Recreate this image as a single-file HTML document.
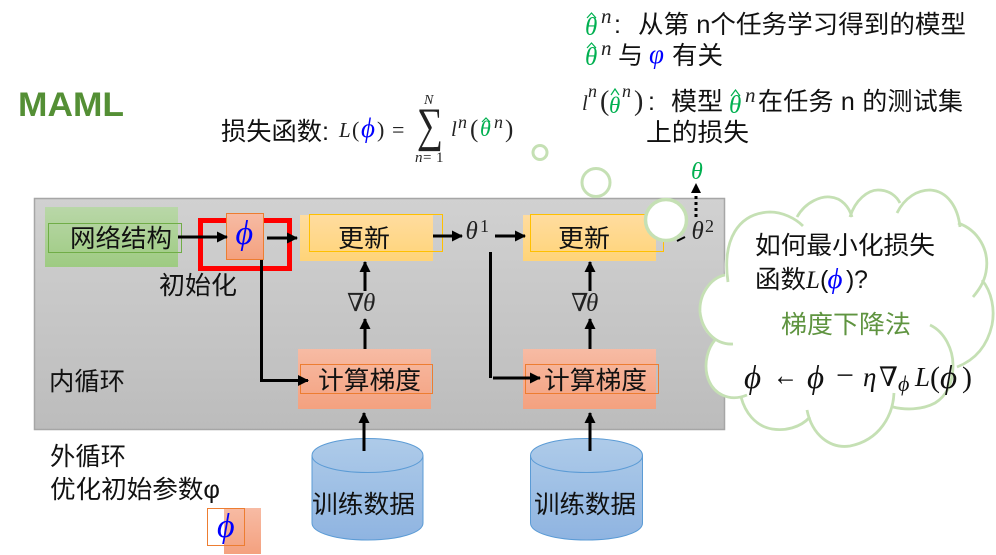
<!DOCTYPE html>
<html><head><meta charset="utf-8"><style>
html,body{margin:0;padding:0;background:#fff;width:996px;height:555px;overflow:hidden}
svg{display:block}
.c{font-family:"Liberation Sans","Noto Sans CJK SC",sans-serif;font-size:25px;fill:#111}
.m{font-family:"Liberation Serif","DejaVu Serif",serif;font-style:italic;fill:#222}
.u{font-family:"Liberation Serif","DejaVu Serif",serif;fill:#222}
.a{stroke:#000;stroke-width:3;fill:none}
.h{fill:none;stroke:#00b050;stroke-width:1.2}
.gt{fill:#00b050}
.bl{fill:#0000ff}
.k{fill:#111}
</style></head><body>
<svg width="996" height="555" viewBox="0 0 996 555" xmlns="http://www.w3.org/2000/svg">
<defs>
<linearGradient id="g" x1="0" y1="0" x2="0" y2="1"><stop offset="0" stop-color="#d1d1d1"/><stop offset="1" stop-color="#bcbcbc"/></linearGradient>
<linearGradient id="gn" x1="0" y1="0" x2="0" y2="1"><stop offset="0" stop-color="#b9d7a8"/><stop offset="1" stop-color="#9ecb82"/></linearGradient>
<linearGradient id="y" x1="0" y1="0" x2="0" y2="1"><stop offset="0" stop-color="#ffdc9f"/><stop offset="1" stop-color="#ffd478"/></linearGradient>
<linearGradient id="o" x1="0" y1="0" x2="0" y2="1"><stop offset="0" stop-color="#f7bba4"/><stop offset="1" stop-color="#f4a17f"/></linearGradient>
<linearGradient id="b" x1="0" y1="0" x2="0" y2="1"><stop offset="0" stop-color="#aecbe9"/><stop offset="1" stop-color="#8fb4e1"/></linearGradient>
<marker id="ah" markerUnits="userSpaceOnUse" markerWidth="11" markerHeight="12" refX="10" refY="5.500" orient="auto"><path d="M0 0L11 5.500L0 11Z" fill="#000"/></marker>
</defs>

<rect x="34.5" y="198.5" width="690" height="231" fill="url(#g)" stroke="#a6a6a6" stroke-width="1.5"/>

<!-- 网络结构 -->
<rect x="45" y="207" width="133" height="60" fill="url(#gn)"/>
<rect x="48.5" y="223.5" width="133" height="29" fill="none" stroke="#70ad47" stroke-width="1"/>
<text class="c" x="70" y="247" textLength="102" lengthAdjust="spacingAndGlyphs">网络结构</text>

<!-- update boxes -->
<rect x="300" y="215" width="133" height="46" fill="url(#y)"/>
<rect x="309.5" y="214.5" width="133" height="37" fill="none" stroke="#ffc000" stroke-width="1"/>
<text class="c" x="338" y="247" textLength="52" lengthAdjust="spacingAndGlyphs">更新</text>
<rect x="523" y="215" width="133" height="46" fill="url(#y)"/>
<rect x="530.5" y="214.5" width="133" height="37" fill="none" stroke="#ffc000" stroke-width="1"/>
<text class="c" x="558" y="247" textLength="52" lengthAdjust="spacingAndGlyphs">更新</text>

<!-- gradient boxes -->
<rect x="298" y="349" width="133" height="60" fill="url(#o)"/>
<rect x="300.5" y="364.5" width="132" height="29" fill="none" stroke="#ed7d31" stroke-width="1"/>
<text class="c" x="318" y="389" textLength="103" lengthAdjust="spacingAndGlyphs">计算梯度</text>
<rect x="523" y="349" width="133" height="60" fill="url(#o)"/>
<rect x="525.5" y="364.5" width="133" height="29" fill="none" stroke="#ed7d31" stroke-width="1"/>
<text class="c" x="544" y="389" textLength="103" lengthAdjust="spacingAndGlyphs">计算梯度</text>

<!-- red box & phi -->
<rect x="200.500" y="220.500" width="89" height="48" fill="none" stroke="#ff0000" stroke-width="5"/>
<rect x="226.5" y="213.5" width="37" height="46" fill="url(#o)" stroke="#ed7d31" stroke-width="1"/>
<text class="m bl" x="235.500" y="244" font-size="34">ϕ</text>

<!-- arrows -->
<path class="a" d="M178 237H227" marker-end="url(#ah)"/>
<path class="a" d="M267 238H297" marker-end="url(#ah)"/>
<path class="a" d="M261.500 260V380.500H308" marker-end="url(#ah)"/>
<path class="a" d="M433 236H462" marker-end="url(#ah)"/>
<path class="a" d="M495 236H525" marker-end="url(#ah)"/>
<path class="a" d="M490.500 252V378"/>
<path class="a" d="M493 378H540" marker-end="url(#ah)"/>
<path class="a" d="M365 291V262" marker-end="url(#ah)"/>
<path class="a" d="M365 349V319" marker-end="url(#ah)"/>
<path class="a" d="M590 291V262" marker-end="url(#ah)"/>
<path class="a" d="M590 349V319" marker-end="url(#ah)"/>
<path class="a" d="M364 451V413" marker-end="url(#ah)"/>
<path class="a" d="M590 451V413" marker-end="url(#ah)"/>
<path d="M677 241L685 237" stroke="#000" stroke-width="2" fill="none"/>
<path d="M696 217V192" stroke="#000" stroke-width="3" stroke-dasharray="3 3" fill="none"/>
<path d="M691 193L696 183L701 193Z" fill="#000"/>

<text class="u" x="347" y="311" font-size="25">∇</text><text class="m" x="363" y="311" font-size="25">θ</text>
<text class="u" x="571" y="311" font-size="25">∇</text><text class="m" x="586" y="311" font-size="25">θ</text>
<text class="m" x="465.500" y="239" font-size="25">θ</text><text class="u" x="480" y="232" font-size="18">1</text>
<text class="m" x="691.500" y="239" font-size="25">θ</text><text class="u" x="705" y="232" font-size="18">2</text>
<text class="m gt" x="691" y="179" font-size="24">θ</text>

<text class="c" x="159" y="294" textLength="78" lengthAdjust="spacingAndGlyphs">初始化</text>
<text class="c" x="49" y="390" textLength="76" lengthAdjust="spacingAndGlyphs">内循环</text>

<!-- thought circles -->
<circle cx="540" cy="152.500" r="7" fill="#fff" stroke="#c5e0b4" stroke-width="3"/>
<circle cx="596" cy="182.500" r="14" fill="#fff" stroke="#c5e0b4" stroke-width="3"/>
<circle cx="666" cy="220" r="20.500" fill="#fff" stroke="#c5e0b4" stroke-width="3.500"/>

<!-- cloud -->
<path d="M725 275C722 240 738 213 770 212C778 212 790 215 803 227C810 205 835 190 852 217C862 190 888 185 898 213C915 185 950 185 960 225C975 228 992 245 986 272L982 280C1000 305 990 350 950 368C952 385 930 415 893 407C890 440 835 462 807 410C790 432 750 430 740 397C715 405 695 375 715 340C690 325 695 280 725 275Z" fill="#fff"/>
<g fill="none" stroke="#c5e0b4" stroke-width="2.800">
<path d="M728 282C722 240 738 213 770 212C782 212 795 218 803 226"/>
<path d="M797 217C806 201 822 196 830 197C842 198 849 207 852 217"/>
<path d="M850 217C855 200 868 190 878 190C890 190 897 197 900 203"/>
<path d="M897 213C905 197 918 190 930 190C948 191 958 208 960 227"/>
<path d="M958 223C978 230 990 250 986 272C984 283 978 291 973 297"/>
<path d="M982 280C992 292 995 310 992 325C987 347 975 360 957 367"/>
<path d="M930 325C945 332 953 350 953 365C953 385 945 397 935 403C922 410 905 410 893 407"/>
<path d="M894 393C893 415 880 440 850 446C830 449 812 435 807 410"/>
<path d="M810 417C800 428 785 431 772 429C755 426 745 412 741 397"/>
<path d="M747 395C730 402 712 395 707 375C704 362 708 348 715 340"/>
<path d="M733 344C715 345 702 330 700 312C699 295 710 278 725 275"/>
</g>

<text class="c" x="755" y="254" textLength="180" lengthAdjust="spacingAndGlyphs">如何最小化损失</text>
<text class="c" x="755" y="288" textLength="51" lengthAdjust="spacingAndGlyphs">函数</text>
<text class="m k" x="806" y="288" font-size="25">L</text>
<text class="c" x="820" y="288">(</text>
<text class="m bl" x="827.500" y="288" font-size="29">ϕ</text>
<text class="c" x="846" y="288">)</text>
<text class="c" x="854" y="288">?</text>
<text class="c" x="781" y="333" textLength="130" lengthAdjust="spacingAndGlyphs" style="fill:#5f9440">梯度下降法</text>

<text class="m k" x="744" y="388" font-size="33">ϕ</text>
<text class="u k" x="773" y="385" font-size="30" textLength="25" lengthAdjust="spacingAndGlyphs">←</text>
<text class="m k" x="807" y="388" font-size="33">ϕ</text>
<text class="u k" x="836" y="385" font-size="30" textLength="18" lengthAdjust="spacingAndGlyphs">−</text>
<text class="m k" x="863" y="386" font-size="27">η</text>
<text class="u k" x="879" y="386" font-size="27">∇</text>
<text class="m k" x="898" y="391" font-size="22">ϕ</text>
<text class="m k" x="915" y="386" font-size="27">L</text>
<text class="u k" x="930" y="387" font-size="30">(</text>
<text class="m k" x="940" y="388" font-size="33">ϕ</text>
<text class="u k" x="962" y="387" font-size="30">)</text>

<!-- MAML -->
<text x="18" y="116" font-family="Liberation Sans,sans-serif" font-weight="700" font-size="34" fill="#548f35" textLength="106" lengthAdjust="spacingAndGlyphs">MAML</text>

<!-- loss -->
<text class="c" x="221" y="140" textLength="108" lengthAdjust="spacingAndGlyphs">损失函数:</text>
<text class="m" x="339" y="137" font-size="21">L</text>
<text class="u" x="352" y="137" font-size="22">(</text>
<text class="m bl" x="361" y="137" font-size="27">ϕ</text>
<text class="u" x="377" y="137" font-size="22">)</text>
<text class="u" x="392" y="137" font-size="22">=</text>
<text class="u" x="417" y="141" font-size="48" textLength="26" lengthAdjust="spacingAndGlyphs">∑</text>
<text class="m" x="424" y="104" font-size="14">N</text>
<text class="m" x="415" y="162" font-size="15">n</text>
<text class="u" x="423" y="162" font-size="15">=</text>
<text class="u" x="436" y="162" font-size="15">1</text>
<text class="m" x="451" y="136" font-size="21">l</text>
<text class="m" x="458" y="128" font-size="18">n</text>
<text class="u" x="470" y="137" font-size="25">(</text>
<text class="m gt" x="480" y="136" font-size="22">θ</text>
<path class="h" d="M482 122L486 118L490 122"/>
<text class="m" x="494" y="128" font-size="18">n</text>
<text class="u" x="505" y="137" font-size="25">)</text>

<!-- top notes -->
<text class="m gt" x="585" y="35" font-size="25">θ</text>
<path class="h" d="M587 18L591.500 13L596 18"/>
<text class="m" x="601" y="23" font-size="21">n</text>
<text class="c" x="614" y="33">:</text>
<text class="c" x="638" y="33" textLength="328" lengthAdjust="spacingAndGlyphs">从第 n个任务学习得到的模型</text>
<text class="m gt" x="585" y="65" font-size="25">θ</text>
<path class="h" d="M587 48L591.500 43L596 48"/>
<text class="m" x="601" y="55" font-size="21">n</text>
<text class="c" x="618" y="64" textLength="25" lengthAdjust="spacingAndGlyphs">与</text>
<text class="m bl" x="649" y="63" font-size="27">φ</text>
<text class="c" x="672" y="64" textLength="51" lengthAdjust="spacingAndGlyphs">有关</text>

<text class="m" x="582" y="110" font-size="21">l</text>
<text class="m" x="588" y="97" font-size="18">n</text>
<text class="u" x="600" y="110" font-size="28">(</text>
<text class="m gt" x="609" y="113" font-size="23">θ</text>
<path class="h" d="M611 95L615 89L619 95"/>
<text class="m" x="622" y="97" font-size="18">n</text>
<text class="u" x="634" y="110" font-size="28">)</text>
<text class="c" x="648" y="110">:</text>
<text class="c" x="671" y="110" textLength="52" lengthAdjust="spacingAndGlyphs">模型</text>
<text class="m gt" x="729" y="113" font-size="25">θ</text>
<path class="h" d="M731 96L735.500 90L740 96"/>
<text class="m" x="745" y="102" font-size="21">n</text>
<text class="c" x="758" y="110" textLength="205" lengthAdjust="spacing">在任务 n 的测试集</text>
<text class="c" x="646" y="141" textLength="103" lengthAdjust="spacingAndGlyphs">上的损失</text>

<!-- outer loop -->
<text class="c" x="50" y="465" textLength="76" lengthAdjust="spacingAndGlyphs">外循环</text>
<text class="c" x="50" y="498" textLength="170" lengthAdjust="spacingAndGlyphs">优化初始参数φ</text>

<rect x="224" y="508" width="37" height="46" fill="url(#o)"/>
<rect x="207.500" y="508.500" width="37" height="37" fill="none" stroke="#ed7d31" stroke-width="1"/>
<text class="m bl" x="217" y="537" font-size="34">ϕ</text>

<!-- cylinders -->
<g stroke="#5b9bd5" stroke-width="1" fill="url(#b)">
<path d="M312 455.500V523C312 533 337 540 367.500 540S423 533 423 523V455.500C423 445.500 398 438.500 367.500 438.500S312 445.500 312 455.500Z"/>
<path d="M312 455.500C312 465.500 337 472.500 367.500 472.500S423 465.500 423 455.500" fill="none"/>
<path d="M530.500 455.500V523C530.500 533 555 540 586.500 540S642.500 533 642.500 523V455.500C642.500 445.500 618 438.500 586.500 438.500S530.500 445.500 530.500 455.500Z"/>
<path d="M530.500 455.500C530.500 465.500 555 472.500 586.500 472.500S642.500 465.500 642.500 455.500" fill="none"/>
</g>
<path d="M364 431V451M590 431V451" stroke="#000" stroke-width="3" fill="none"/>
<text class="c" x="312" y="513" textLength="103" lengthAdjust="spacingAndGlyphs">训练数据</text>
<text class="c" x="534" y="513" textLength="102" lengthAdjust="spacingAndGlyphs">训练数据</text>
</svg>
</body></html>
